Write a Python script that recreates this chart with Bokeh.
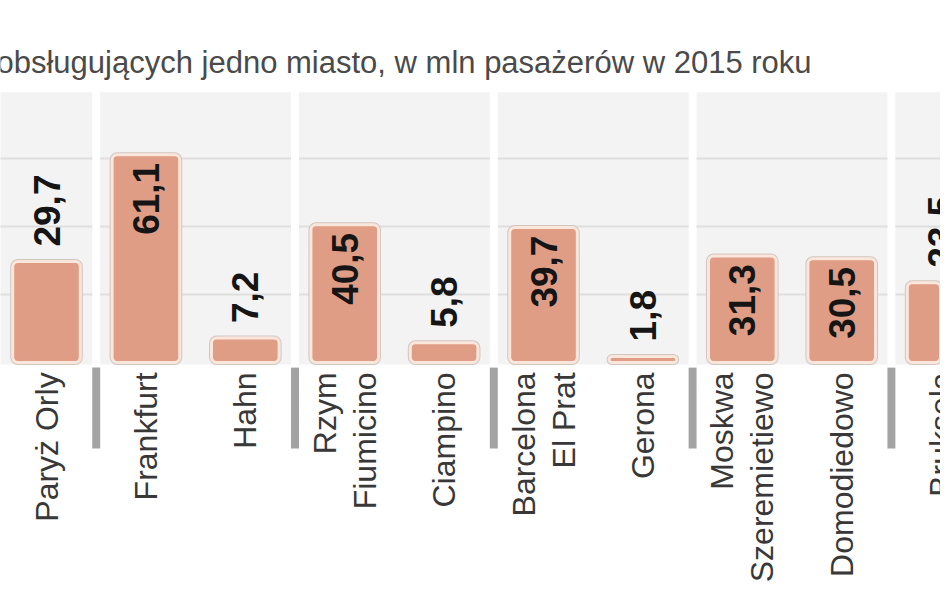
import math
from bokeh.plotting import figure
from bokeh.models import Range1d, Label
from bokeh.embed import file_html
from bokeh.resources import INLINE
from bokeh.core.properties import value

# ---- data ----
airports = ["Paryż Orly", "Frankfurt", "Hahn", "Rzym\nFiumicino", "Ciampino",
            "Barcelona\nEl Prat", "Gerona", "Moskwa\nSzeremietiewo", "Domodiedowo", "Bruksela"]
passengers = [29.7, 61.1, 7.2, 40.5, 5.8, 39.7, 1.8, 31.3, 30.5, 23.5]
city_group = [0, 1, 1, 2, 2, 3, 3, 4, 4, 5]
grid_values = [20, 40, 60]
title_text = "obsługujących jedno miasto, w mln pasażerów w 2015 roku"

# ---- layout ----
W, H = 940, 585
X0, X1 = -0.463, 8.994
Y0, Y1 = -65.6, 106.5
PANEL_TOP = 79.5
GAP = 0.04

p = figure(width=W, height=H, output_backend="svg", toolbar_location=None,
           x_range=Range1d(X0, X1), y_range=Range1d(Y0, Y1),
           x_axis_location=None, y_axis_location=None, min_border=0,
           outline_line_color=None, background_fill_color="white",
           border_fill_color="white")
p.xgrid.visible = False
p.ygrid.visible = False

n = len(airports)
xs = list(range(n))
groups = sorted(set(city_group))

# panels per city
pl, pr = [], []
for g in groups:
    slots = [i for i in xs if city_group[i] == g]
    left = min(slots) - 0.5 + GAP
    right = max(slots) + 0.5 - GAP
    if g == groups[0]:
        left = X0 - 1
    if g == groups[-1]:
        right = X1 + 1
    pl.append(left)
    pr.append(right)
p.quad(left=pl, right=pr, bottom=-0.6, top=PANEL_TOP, fill_color="#f3f3f3", line_color=None)

# grid lines inside panels
sx0, sx1, sy = [], [], []
for l, r in zip(pl, pr):
    for gv in grid_values:
        sx0.append(l); sx1.append(r); sy.append(gv)
p.segment(x0=sx0, y0=sy, x1=sx1, y1=sy, line_color="#dfdfdf", line_width=2)

# separators below the panels
bounds = [i - 0.5 for i in range(1, n) if city_group[i] != city_group[i - 1]]
p.quad(left=[b - 0.04 for b in bounds], right=[b + 0.04 for b in bounds],
       bottom=-25.3, top=-1.5, fill_color="#a3a3a3", line_color=None)

# bars
p.vbar(x=xs, top=passengers, bottom=0, width=0.68, fill_color=None,
       line_color="#d2c6c1", line_width=5, border_radius=5)
p.vbar(x=xs, top=passengers, bottom=0, width=0.68, fill_color="#df9d85",
       line_color="#fbe6dc", line_width=3, border_radius=5)

# value labels
in_x, in_y, in_t, out_x, out_y, out_t = [], [], [], [], [], []
for i, v in enumerate(passengers):
    t = f"{v:.1f}".replace(".", ",")
    if v >= 30:
        in_x.append(i); in_y.append(v); in_t.append(t)
    else:
        out_x.append(i); out_y.append(v); out_t.append(t)
common = dict(angle=math.pi / 2, text_font=value("Liberation Sans"), text_font_style="bold",
              text_font_size="37px", text_color="#151515", text_baseline="middle")
p.text(x=in_x, y=in_y, text=in_t, text_align="right", y_offset=8, **common)
p.text(x=out_x, y=out_y, text=out_t, text_align="left", y_offset=-15, **common)

# category labels
cx, cy, ct, co = [], [], [], []
for i, name in enumerate(airports):
    lines = name.split("\n")
    m = len(lines)
    for k, line in enumerate(lines):
        cx.append(i); cy.append(-2.9); ct.append(line); co.append((k - (m - 1) / 2) * 40)
p.text(x=cx, y=cy, text=ct, x_offset=co, angle=math.pi / 2, text_align="right",
       text_baseline="middle", text_font=value("Liberation Sans"), text_font_size="32px",
       text_color="#383838")

# title (cut at left edge, as in the source)
p.add_layout(Label(x=-4, y=H - 62, x_units="screen", y_units="screen", text=title_text,
                   text_font="Liberation Sans", text_font_size="31px", text_color="#4a4a4a",
                   text_baseline="alphabetic"))

open("out.html", "w").write(file_html(p, INLINE))
